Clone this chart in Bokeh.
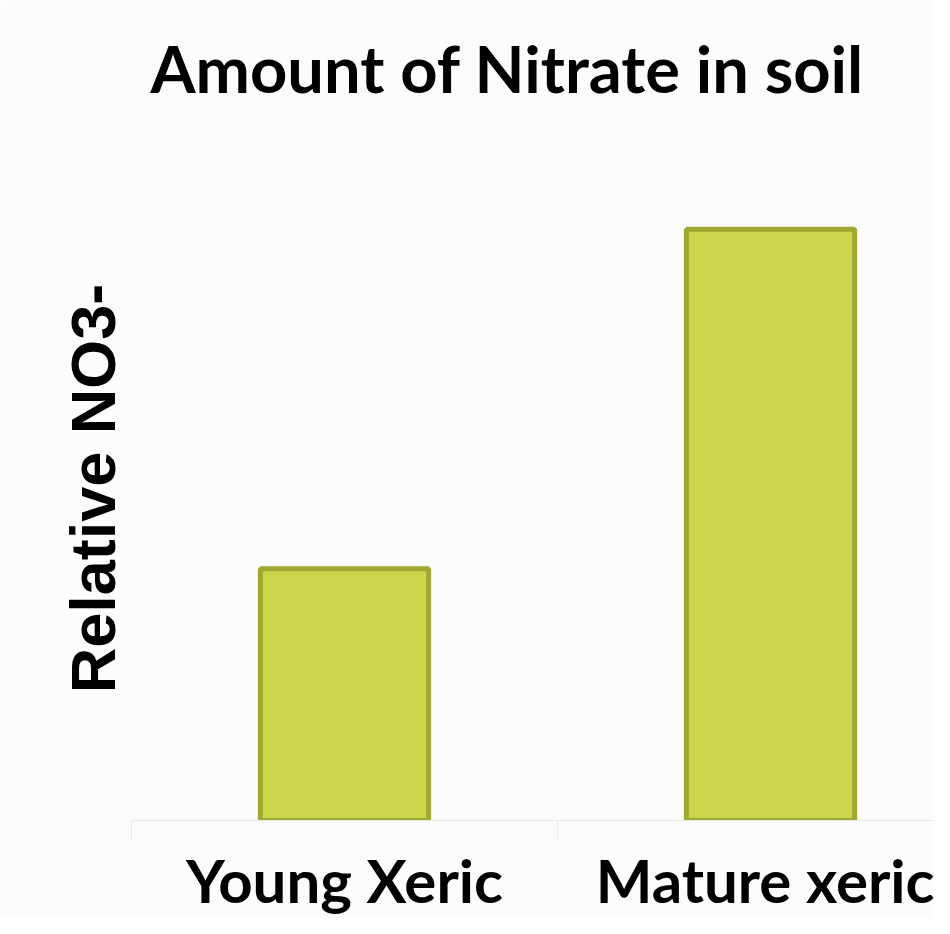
from bokeh.plotting import figure
from bokeh.models import Range1d, FixedTicker, Title
from bokeh.embed import file_html
from bokeh.resources import INLINE

# Data
categories = ["Young Xeric", "Mature xeric"]
positions = [0.5, 1.5]
values = [25.3, 59.4]
title_text = "Amount of Nitrate in soil"
y_label = "Relative NO3-"

BG = "#FCFCFA"
p = figure(width=934, height=918, output_backend="svg", toolbar_location=None,
           x_range=Range1d(0, 1.885), y_range=Range1d(0, 66.7),
           min_border_left=131, min_border_right=0, min_border_top=156, min_border_bottom=0,
           background_fill_color=BG, border_fill_color=BG, outline_line_color=None)

p.vbar(x=positions, top=values, bottom=0, width=0.395,
       fill_color="#CBD64B", line_color="#A0A832", line_width=5)

p.grid.visible = False

# spacer between title and plot area
spacer = Title(text=" ", text_font_size="1px", standoff=20, text_color=BG)
p.add_layout(spacer, "above")

# title
p.title.text = title_text
p.title.align = "left"
p.title.vertical_align = "top"
p.title.offset = 19
p.title.standoff = 50
p.title.text_font = "Lato"
p.title.text_font_style = "bold"
p.title.text_font_size = "65px"
p.title.text_color = "black"

# x axis
xa = p.xaxis[0]
xa.ticker = FixedTicker(ticks=positions, minor_ticks=[0, 1, 2])
xa.major_label_overrides = {pos: c for pos, c in zip(positions, categories)}
xa.major_tick_line_color = None
xa.major_tick_out = 0
xa.minor_tick_in = 0
xa.minor_tick_out = 20
xa.minor_tick_line_color = "#EAEAE8"
xa.axis_line_color = "#EAEAE8"
xa.axis_line_width = 1
xa.major_label_standoff = 3
xa.major_label_text_font = "Lato"
xa.major_label_text_font_style = "bold"
xa.major_label_text_font_size = "60px"
xa.major_label_text_color = "black"

# y axis
ya = p.yaxis[0]
ya.ticker = FixedTicker(ticks=[])
ya.axis_line_color = None
ya.major_tick_line_color = None
ya.minor_tick_line_color = None
ya.axis_label = y_label
ya.axis_label_standoff = 4
ya.axis_label_text_font = "Liberation Sans"
ya.axis_label_text_font_style = "bold"
ya.axis_label_text_font_size = "63px"
ya.axis_label_text_color = "black"

open("out.html", "w").write(file_html(p, INLINE))
